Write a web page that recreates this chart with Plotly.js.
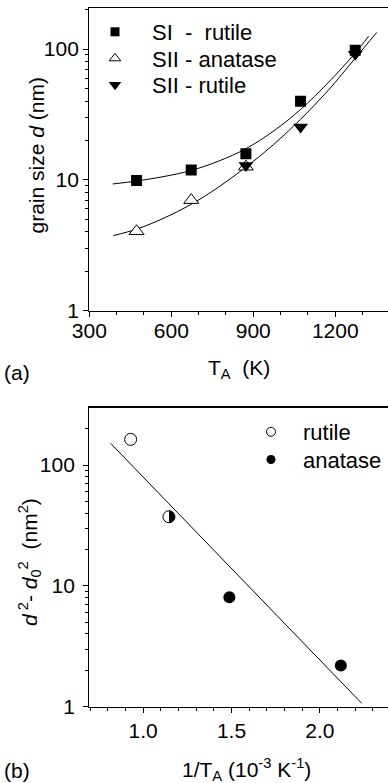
<!DOCTYPE html>
<html>
<head>
<meta charset="utf-8">
<script src="https://cdn.plot.ly/plotly-3.0.1.min.js"></script>
<style>
  html, body { margin: 0; padding: 0; background: #fff; overflow: hidden; }
  #chart { width: 388px; height: 783px; }
</style>
</head>
<body>
<div id="chart"></div>
<script>
// (a) grain size d (nm) versus annealing temperature T_A (K)
const annealT = [473, 673, 873, 1073, 1273];
const sIRutile = [9.9, 11.9, 15.8, 39.9, 98];
const sIIAnataseT = [473, 673, 873];
const sIIAnatase = [4.05, 7.0, 12.6];
const sIIRutileT = [873, 1073, 1273];
const sIIRutile = [12.9, 25.3, 91];

// fitted growth curves drawn through the two sample series
const fitUpperT = [386, 473, 573, 673, 773, 873, 973, 1073, 1173, 1273, 1322];
const fitUpper = [9.3, 9.8, 10.6, 11.8, 13.9, 17.3, 23.5, 34.5, 55, 93, 125];
const fitLowerT = [388, 473, 573, 673, 773, 873, 973, 1073, 1173, 1273, 1352];
const fitLower = [3.75, 4.2, 5.1, 6.5, 8.8, 12.5, 18.5, 29, 48, 85, 134];

// (b) Arrhenius plot: d^2 - d0^2 (nm^2) versus 1/T_A (10^-3 K^-1)
const invTRutile = [0.929, 1.146];
const dSqRutile = [163, 37.3];
const invTAnatase = [1.146, 1.488, 2.119];
const dSqAnatase = [37.3, 8.06, 2.19];
const arrheniusX = [0.816, 2.237];
const arrheniusY = [151, 1.067];

// tick labels
const tickA_x = [300, 600, 900, 1200];
const tickB_x = [1.0, 1.5, 2.0];
const tickB_xText = ['1.0', '1.5', '2.0'];
const tickLog = [1, 10, 100];
const tickLogText = ['1', '10', '100'];
const minorLog = [2, 3, 4, 5, 6, 7, 8, 9, 20, 30, 40, 50, 60, 70, 80, 90, 200];

const FONT = 'Liberation Sans, Arial, Helvetica, sans-serif';
const BLACK = '#000';
const W = 388, H = 783;
const px = v => v / W;
const py = v => 1 - v / H;

const line = { color: BLACK, width: 1 };
const noLegend = { showlegend: false, hoverinfo: 'skip' };

const traces = [
  // panel (a)
  { x: fitUpperT, y: fitUpper, mode: 'lines', line: { ...line, shape: 'spline', smoothing: 1 }, xaxis: 'x', yaxis: 'y', ...noLegend },
  { x: fitLowerT, y: fitLower, mode: 'lines', line: { ...line, shape: 'spline', smoothing: 1 }, xaxis: 'x', yaxis: 'y', ...noLegend },
  { x: sIIAnataseT, y: sIIAnatase, mode: 'markers', xaxis: 'x', yaxis: 'y', ...noLegend,
    marker: { symbol: 'triangle-up', size: 13, color: '#fff', line: { color: BLACK, width: 1 } } },
  { x: annealT, y: sIRutile, mode: 'markers', xaxis: 'x', yaxis: 'y', ...noLegend,
    marker: { symbol: 'square', size: 11, color: BLACK, line: { width: 0 } } },
  { x: sIIRutileT, y: sIIRutile, mode: 'markers', xaxis: 'x', yaxis: 'y', ...noLegend,
    marker: { symbol: 'triangle-down', size: 13, color: BLACK, line: { width: 0 } } },
  // legend entries for panel (a), one legend box per row
  { x: [null], y: [null], mode: 'markers', name: 'SI\u00a0\u00a0-\u00a0\u00a0rutile', legend: 'legend', xaxis: 'x', yaxis: 'y',
    marker: { symbol: 'square', size: 9, color: BLACK, line: { width: 0 } } },
  { x: [null], y: [null], mode: 'markers', name: 'SII - anatase', legend: 'legend2', xaxis: 'x', yaxis: 'y',
    marker: { symbol: 'triangle-up', size: 10, color: '#fff', line: { color: BLACK, width: 1 } } },
  { x: [null], y: [null], mode: 'markers', name: 'SII - rutile', legend: 'legend3', xaxis: 'x', yaxis: 'y',
    marker: { symbol: 'triangle-down', size: 11, color: BLACK, line: { width: 0 } } },

  // panel (b)
  { x: arrheniusX, y: arrheniusY, mode: 'lines', line: line, xaxis: 'x2', yaxis: 'y2', ...noLegend },
  { x: invTRutile, y: dSqRutile, mode: 'markers', xaxis: 'x2', yaxis: 'y2', ...noLegend,
    marker: { symbol: 'circle', size: 12, color: '#fff', line: { color: BLACK, width: 1 } } },
  { x: invTAnatase, y: dSqAnatase, mode: 'markers', xaxis: 'x2', yaxis: 'y2', ...noLegend, meta: 'anatase-b',
    marker: { symbol: 'circle', size: 12, color: BLACK, line: { width: 0 } } },
  // legend entries for panel (b)
  { x: [null], y: [null], mode: 'markers', name: 'rutile', legend: 'legend4', xaxis: 'x2', yaxis: 'y2',
    marker: { symbol: 'circle', size: 9, color: '#fff', line: { color: BLACK, width: 1 } } },
  { x: [null], y: [null], mode: 'markers', name: 'anatase', legend: 'legend5', xaxis: 'x2', yaxis: 'y2',
    marker: { symbol: 'circle', size: 9, color: BLACK, line: { width: 0 } } }
];

const baseAxis = {
  showline: true, linecolor: BLACK, linewidth: 1.2,
  ticks: 'outside', tickcolor: BLACK, tickwidth: 1, ticklen: 5,
  showgrid: false, zeroline: false,
  tickfont: { family: FONT, size: 21, color: BLACK },
  fixedrange: true
};
const minorLin = d => ({ ticks: 'outside', ticklen: 3, tickcolor: BLACK, tickwidth: 1, dtick: d, tick0: 0, showgrid: false });
const minorLogAxis = { ticks: 'outside', ticklen: 3, tickcolor: BLACK, tickwidth: 1, tickmode: 'array', tickvals: minorLog, showgrid: false };

const legendAt = (left, top, itemwidth) => ({
  x: px(left), y: py(top), xanchor: 'left', yanchor: 'top',
  bgcolor: 'rgba(0,0,0,0)', borderwidth: 0, itemwidth: itemwidth,
  font: { family: FONT, size: 22, color: BLACK }
});

const annFont = { family: FONT, size: 21, color: BLACK };

const layout = {
  width: W, height: H,
  margin: { l: 0, r: 0, t: 0, b: 0 },
  paper_bgcolor: '#fff', plot_bgcolor: '#fff',
  font: { family: FONT, color: BLACK },
  showlegend: true,
  xaxis: { ...baseAxis, anchor: 'y', domain: [px(89.3), 1], range: [300, 1393],
    tickmode: 'array', tickvals: tickA_x, minor: minorLin(100), mirror: true,
    ticklabelstandoff: -4 },
  yaxis: { ...baseAxis, anchor: 'x', type: 'log', domain: [py(310.7), py(8.3)], range: [0, 2.311],
    tickmode: 'array', tickvals: tickLog, ticktext: tickLogText, minor: minorLogAxis },
  xaxis2: { ...baseAxis, anchor: 'y2', domain: [px(89.3), 1], range: [0.695, 2.386],
    tickmode: 'array', tickvals: tickB_x, ticktext: tickB_xText, minor: minorLin(0.1), mirror: true },
  yaxis2: { ...baseAxis, anchor: 'x2', type: 'log', domain: [py(706.7), py(407.5)], range: [0, 2.476],
    tickmode: 'array', tickvals: tickLog, ticktext: tickLogText, minor: minorLogAxis,
    ticklabelstandoff: 4 },
  legend: legendAt(78, 11, 64),
  legend2: legendAt(78, 37.5, 64),
  legend3: legendAt(78, 64, 64),
  legend4: legendAt(239, 411, 54),
  legend5: legendAt(239, 438.7, 54),
  annotations: [
    { text: 'grain size <i>d</i> (nm)', xref: 'paper', yref: 'paper', x: px(35.5), y: py(156),
      xanchor: 'center', yanchor: 'middle', textangle: -90, showarrow: false, font: annFont },
    { text: 'T<sub>A</sub>  (K)', xref: 'paper', yref: 'paper', x: px(239), y: py(369),
      xanchor: 'center', yanchor: 'middle', showarrow: false, font: annFont },
    { text: '(a)', xref: 'paper', yref: 'paper', x: px(2), y: py(373),
      xanchor: 'left', yanchor: 'middle', showarrow: false, font: annFont },
    { text: '<i>d</i><sup> 2</sup>- <i>d</i><sub>0</sub><sup>2</sup>  (nm<sup>2</sup>)', xref: 'paper', yref: 'paper',
      x: px(29), y: py(562), xanchor: 'center', yanchor: 'middle', textangle: -90, showarrow: false, font: annFont },
    { text: '1/T<sub>A</sub> (10<sup>-3</sup> K<sup>-1</sup>)', xref: 'paper', yref: 'paper', x: px(247), y: py(769),
      xanchor: 'center', yanchor: 'middle', showarrow: false, font: annFont },
    { text: '(b)', xref: 'paper', yref: 'paper', x: px(2), y: py(770),
      xanchor: 'left', yanchor: 'middle', showarrow: false, font: annFont }
  ]
};

const gd = document.getElementById('chart');
Plotly.newPlot(gd, traces, layout, { staticPlot: true, displayModeBar: false }).then(() => {
  // the anatase point that coincides with a rutile point is drawn as a
  // right half-disc, so the open rutile circle shows on the left half
  gd.querySelectorAll('.scatterlayer .trace').forEach(g => {
    const cd = g.__data__;
    if (!cd || !cd[0] || !cd[0].trace || cd[0].trace.meta !== 'anatase-b') return;
    const pt = g.querySelector('path.point');
    if (pt) {
      const r = cd[0].trace.marker.size / 2;
      pt.setAttribute('d', `M0,-${r}A${r},${r} 0 0,1 0,${r}Z`);
    }
  });
});
</script>
</body>
</html>
